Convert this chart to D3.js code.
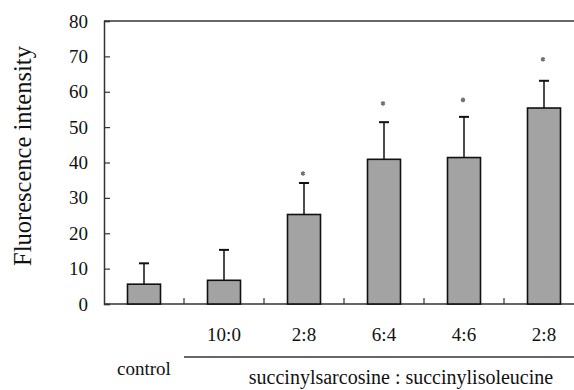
<!DOCTYPE html>
<html><head><meta charset="utf-8">
<script src="https://cdn.jsdelivr.net/npm/d3@7"></script>
<style>body{margin:0;background:#fff}svg{display:block}
svg text{font-family:'Liberation Serif','Times New Roman',serif;fill:#111}</style>
</head><body>
<svg id="c" width="574" height="390"></svg>
<script>
const categories = ["control", "10:0", "2:8", "6:4", "4:6", "2:8 "];
const tickLabels = ["", "10:0", "2:8", "6:4", "4:6", "2:8"];
const values = [5.6, 6.7, 25.3, 40.9, 41.4, 55.4];
const errors = [5.9, 8.6, 8.9, 10.5, 11.5, 7.7];
const starLevels = [null, null, 36.9, 56.7, 57.7, 69.2];
const yTicks = [0, 10, 20, 30, 40, 50, 60, 70, 80];

(function () {
const svg = d3.select("#c");
const mLeft = 104, mTop = 21, mBottom = 304;
const p = 0.5875;
const x = d3.scaleBand().domain(categories).range([mLeft, mLeft + 480]).paddingInner(p).paddingOuter(p / 2);
const y = d3.scaleLinear().domain([0, 80]).range([mBottom, mTop]);
const cx = d => x(d) + x.bandwidth() / 2;
const step = x.step();

// frame top line
svg.append("line").attr("x1", mLeft).attr("x2", 574).attr("y1", y(80)).attr("y2", y(80))
  .attr("stroke", "#333").attr("stroke-width", 1.5);

// y axis
const ya = svg.append("g").attr("transform", `translate(${mLeft},0)`)
  .call(d3.axisLeft(y).tickValues(yTicks).tickSize(-6).tickPadding(16));
ya.attr("font-family", null).attr("font-size", null);
ya.select(".domain").attr("stroke", "#333").attr("stroke-width", 1.5);
ya.selectAll(".tick line").attr("stroke", "#333").attr("stroke-width", 1.2);
ya.selectAll(".tick text").style("font-size", "19px").attr("fill", "#111");

// x axis baseline with inward ticks between categories
const xa = svg.append("g");
xa.append("line").attr("x1", mLeft).attr("x2", 574).attr("y1", mBottom).attr("y2", mBottom)
  .attr("stroke", "#333").attr("stroke-width", 1.5);
xa.selectAll("line.tk").data(categories.slice(1)).join("line").attr("class", "tk")
  .attr("x1", d => cx(d) - step / 2).attr("x2", d => cx(d) - step / 2)
  .attr("y1", mBottom).attr("y2", mBottom - 6).attr("stroke", "#333").attr("stroke-width", 1.2);

// bars
svg.selectAll("rect.bar").data(categories).join("rect").attr("class", "bar")
  .attr("x", d => x(d)).attr("width", x.bandwidth())
  .attr("y", (d, i) => y(values[i])).attr("height", (d, i) => mBottom - y(values[i]))
  .attr("fill", "#a3a3a3").attr("stroke", "#111").attr("stroke-width", 1.6);

// error bars (upper only)
const eb = svg.selectAll("g.eb").data(categories).join("g").attr("class", "eb");
eb.append("line").attr("x1", cx).attr("x2", cx)
  .attr("y1", (d, i) => y(values[i])).attr("y2", (d, i) => y(values[i] + errors[i]))
  .attr("stroke", "#111").attr("stroke-width", 1.5);
eb.append("line").attr("x1", d => cx(d) - 5).attr("x2", d => cx(d) + 5)
  .attr("y1", (d, i) => y(values[i] + errors[i])).attr("y2", (d, i) => y(values[i] + errors[i]))
  .attr("stroke", "#111").attr("stroke-width", 2);

// significance stars
const star = d3.symbol().type(d3.symbolAsterisk).size(14);
svg.selectAll("path.star").data(categories.filter((d, i) => starLevels[i] != null)).join("path").attr("class", "star")
  .attr("transform", d => `translate(${cx(d) - 1},${y(starLevels[categories.indexOf(d)])})`)
  .attr("d", star).attr("fill", "none").attr("stroke", "#707070").attr("stroke-width", 1.6);

// x tick labels
svg.selectAll("text.xl").data(categories).join("text").attr("class", "xl")
  .attr("x", cx).attr("y", 341)
  .attr("text-anchor", "middle").style("font-size", "19px")
  .text((d, i) => tickLabels[i]);

// control label
svg.append("text").attr("x", cx(categories[0])).attr("y", 375)
  .attr("text-anchor", "middle").style("font-size", "19px")
  .text("control");

// group line and label
svg.append("line").attr("x1", cx(categories[1]) - step / 2).attr("x2", 574)
  .attr("y1", 357).attr("y2", 357).attr("stroke", "#333").attr("stroke-width", 1.5);
svg.append("text").attr("x", 401).attr("y", 384)
  .attr("text-anchor", "middle").style("font-size", "20px")
  .text("succinylsarcosine : succinylisoleucine");

// y label
svg.append("text").attr("transform", `translate(31,156) rotate(-90)`)
  .attr("text-anchor", "middle").style("font-size", "24.5px")
  .text("Fluorescence intensity");
})();
</script>
</body></html>
